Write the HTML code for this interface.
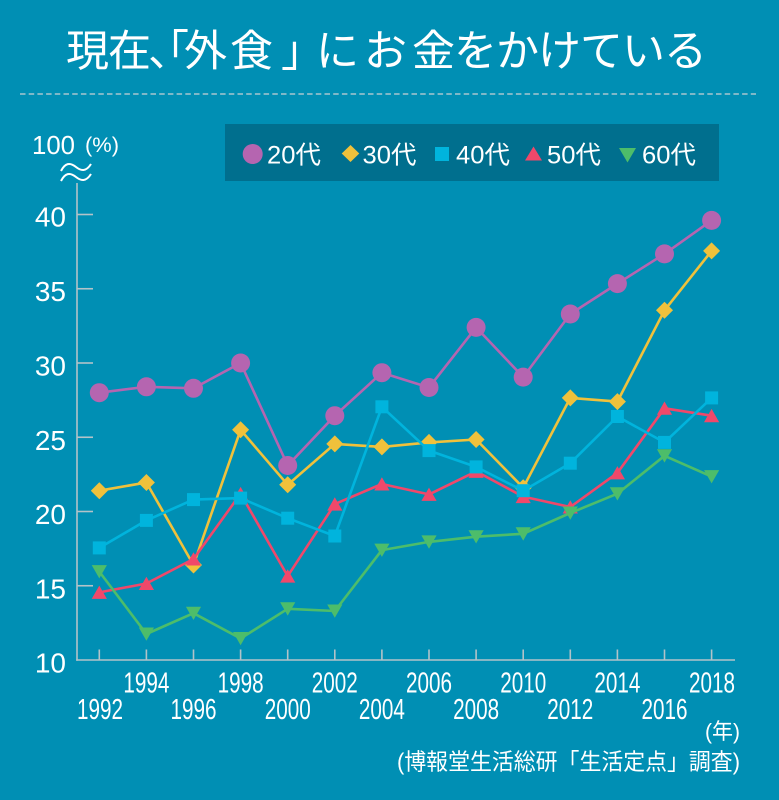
<!DOCTYPE html>
<html><head><meta charset="utf-8">
<style>
html,body{margin:0;padding:0;background:#008fb4;}
svg{display:block;}
text{font-family:"Liberation Sans","Noto Sans CJK JP",sans-serif;fill:#fff;}
.jp{font-family:"Noto Sans CJK JP","Liberation Sans",sans-serif;}
</style></head>
<body>
<svg width="779" height="800" viewBox="0 0 779 800" xmlns="http://www.w3.org/2000/svg">
<defs>
<marker id="mc" markerUnits="userSpaceOnUse" markerWidth="24" markerHeight="24" refX="12" refY="12" overflow="visible"><circle cx="12" cy="12" r="9.5" fill="#b565b0"/></marker>
<marker id="md" markerUnits="userSpaceOnUse" markerWidth="24" markerHeight="24" refX="12" refY="12" overflow="visible"><polygon points="12,3.5 20.5,12 12,20.5 3.5,12" fill="#f0c13b"/></marker>
<marker id="ms" markerUnits="userSpaceOnUse" markerWidth="24" markerHeight="24" refX="12" refY="12" overflow="visible"><rect x="5.5" y="5.5" width="13" height="13" fill="#00b4dd"/></marker>
<marker id="mu" markerUnits="userSpaceOnUse" markerWidth="24" markerHeight="24" refX="12" refY="12" overflow="visible"><polygon points="12,5.2 19.6,18.5 4.4,18.5" fill="#f0486a"/></marker>
<marker id="mv" markerUnits="userSpaceOnUse" markerWidth="24" markerHeight="24" refX="12" refY="12" overflow="visible"><polygon points="4.4,5.5 19.6,5.5 12,18.8" fill="#4dbd6a"/></marker>
</defs>
<rect width="779" height="800" fill="#008fb4"/>

<!-- Title -->
<text class="jp" y="66" font-size="43" x="66 108 148 146 184 230 281 316 364 412 454 496 538 580 622 664">現在、「外食」にお金をかけている</text>

<!-- dashed separator -->
<line x1="20" y1="94" x2="756" y2="94" stroke="#a9c6cf" stroke-width="1.5" stroke-dasharray="5.5 3.2"/>

<!-- Legend -->
<rect x="225" y="124" width="494" height="57" fill="#006f8e"/>
<circle cx="252.7" cy="154" r="10" fill="#b565b0"/>
<text x="267" y="163.5" font-size="25" textLength="54" lengthAdjust="spacingAndGlyphs">20代</text>
<polygon points="350.5,145 359.3,153.5 350.5,162 341.7,153.5" fill="#f0c13b"/>
<text x="362.5" y="163.5" font-size="25" textLength="54" lengthAdjust="spacingAndGlyphs">30代</text>
<rect x="435" y="147" width="14" height="14" fill="#00b4dd"/>
<text x="456" y="163.5" font-size="25" textLength="54" lengthAdjust="spacingAndGlyphs">40代</text>
<polygon points="533.5,146.5 542,160.5 525,160.5" fill="#f0486a"/>
<text x="547" y="163.5" font-size="25" textLength="54" lengthAdjust="spacingAndGlyphs">50代</text>
<polygon points="619,148 636,148 627.5,162.5" fill="#4dbd6a"/>
<text x="642" y="163.5" font-size="25" textLength="54" lengthAdjust="spacingAndGlyphs">60代</text>

<!-- y axis top label -->
<text x="32" y="154" font-size="26" textLength="43" lengthAdjust="spacingAndGlyphs">100</text>
<text x="85" y="152" font-size="21" textLength="34" lengthAdjust="spacingAndGlyphs">(%)</text>
<path d="M61,171 C65,163 70,162 76,167 C81,171 86,172 91,164" fill="none" stroke="#fff" stroke-width="2"/>
<path d="M61,181 C65,173 70,172 76,177 C81,181 86,182 91,174" fill="none" stroke="#fff" stroke-width="2"/>

<!-- axes -->
<g stroke="#b3c3c9" stroke-width="1.6" fill="none">
<line x1="77" y1="183" x2="77" y2="660.8"/>
<line x1="76.2" y1="660" x2="735" y2="660"/>
<line x1="77" y1="214.5" x2="93" y2="214.5"/>
<line x1="77" y1="288.75" x2="93" y2="288.75"/>
<line x1="77" y1="363" x2="93" y2="363"/>
<line x1="77" y1="437.25" x2="93" y2="437.25"/>
<line x1="77" y1="511.5" x2="93" y2="511.5"/>
<line x1="77" y1="585.75" x2="93" y2="585.75"/>
<line x1="99.3" y1="649.5" x2="99.3" y2="660"/>
<line x1="146.4" y1="649.5" x2="146.4" y2="660"/>
<line x1="193.5" y1="649.5" x2="193.5" y2="660"/>
<line x1="240.6" y1="649.5" x2="240.6" y2="660"/>
<line x1="287.7" y1="649.5" x2="287.7" y2="660"/>
<line x1="334.8" y1="649.5" x2="334.8" y2="660"/>
<line x1="381.9" y1="649.5" x2="381.9" y2="660"/>
<line x1="429" y1="649.5" x2="429" y2="660"/>
<line x1="476.1" y1="649.5" x2="476.1" y2="660"/>
<line x1="523.2" y1="649.5" x2="523.2" y2="660"/>
<line x1="570.3" y1="649.5" x2="570.3" y2="660"/>
<line x1="617.4" y1="649.5" x2="617.4" y2="660"/>
<line x1="664.5" y1="649.5" x2="664.5" y2="660"/>
<line x1="711.6" y1="649.5" x2="711.6" y2="660"/>
</g>

<!-- y labels -->
<g font-size="28" text-anchor="end">
<text x="66" y="226.5">40</text>
<text x="66" y="301">35</text>
<text x="66" y="375.5">30</text>
<text x="66" y="449.8">25</text>
<text x="66" y="524">20</text>
<text x="66" y="598.3">15</text>
<text x="66" y="672.5">10</text>
</g>

<!-- x labels -->
<g font-size="29" text-anchor="middle">
<text x="146.4" y="692.5" textLength="46" lengthAdjust="spacingAndGlyphs">1994</text>
<text x="240.6" y="692.5" textLength="46" lengthAdjust="spacingAndGlyphs">1998</text>
<text x="334.8" y="692.5" textLength="46" lengthAdjust="spacingAndGlyphs">2002</text>
<text x="429" y="692.5" textLength="46" lengthAdjust="spacingAndGlyphs">2006</text>
<text x="523.2" y="692.5" textLength="46" lengthAdjust="spacingAndGlyphs">2010</text>
<text x="617.4" y="692.5" textLength="46" lengthAdjust="spacingAndGlyphs">2014</text>
<text x="712" y="692.5" textLength="46" lengthAdjust="spacingAndGlyphs">2018</text>
<text x="100" y="719" textLength="46" lengthAdjust="spacingAndGlyphs">1992</text>
<text x="193.5" y="719" textLength="46" lengthAdjust="spacingAndGlyphs">1996</text>
<text x="287.7" y="719" textLength="46" lengthAdjust="spacingAndGlyphs">2000</text>
<text x="381.9" y="719" textLength="46" lengthAdjust="spacingAndGlyphs">2004</text>
<text x="476.1" y="719" textLength="46" lengthAdjust="spacingAndGlyphs">2008</text>
<text x="570.3" y="719" textLength="46" lengthAdjust="spacingAndGlyphs">2012</text>
<text x="664.5" y="719" textLength="46" lengthAdjust="spacingAndGlyphs">2016</text>
</g>

<text x="705" y="739" font-size="22" textLength="35" lengthAdjust="spacingAndGlyphs">(年)</text>
<text x="397" y="769.5" font-size="23" textLength="343" lengthAdjust="spacingAndGlyphs">(博報堂生活総研「生活定点」調査)</text>

<!-- series -->
<g fill="none" stroke-width="2.6" stroke-linejoin="round">
<polyline stroke="#b565b0" marker-start="url(#mc)" marker-mid="url(#mc)" marker-end="url(#mc)"
 points="99.3,392.7 146.4,386.8 193.5,388.3 240.6,363 287.7,465.5 334.8,415.7 381.9,372.7 429,387.5 476.1,327.4 523.2,377.1 570.3,314 617.4,283.6 664.5,253.9 711.6,220.4"/>
<polyline stroke="#f0c13b" marker-start="url(#md)" marker-mid="url(#md)" marker-end="url(#md)"
 points="99.3,490.7 146.4,482.5 193.5,565 240.6,429.8 287.7,484.8 334.8,443.9 381.9,446.9 429,442.4 476.1,439.5 523.2,487.7 570.3,397.9 617.4,401.6 664.5,310.3 711.6,250.9"/>
<polyline stroke="#f0486a" marker-start="url(#mu)" marker-mid="url(#mu)" marker-end="url(#mu)"
 points="99.3,592.4 146.4,583.5 193.5,559 240.6,493.7 287.7,576.1 334.8,504.1 381.9,484 429,494.4 476.1,471.4 523.2,496.6 570.3,507 617.4,472.9 664.5,408.3 711.6,415.7"/>
<polyline stroke="#00b4dd" marker-start="url(#ms)" marker-mid="url(#ms)" marker-end="url(#ms)"
 points="99.3,547.9 146.4,520.4 193.5,499.6 240.6,498.1 287.7,518.2 334.8,536 381.9,406.8 429,450.6 476.1,466.9 523.2,490.7 570.3,463.2 617.4,416.5 664.5,442.4 711.6,397.9"/>
<polyline stroke="#4dbd6a" marker-start="url(#mv)" marker-mid="url(#mv)" marker-end="url(#mv)"
 points="99.3,571.6 146.4,634 193.5,613.2 240.6,638.5 287.7,608.8 334.8,611 381.9,550.1 429,541.9 476.1,536.7 523.2,533.8 570.3,513 617.4,493.7 664.5,455.8 711.6,476.6"/>
</g>
</svg>
</body></html>
